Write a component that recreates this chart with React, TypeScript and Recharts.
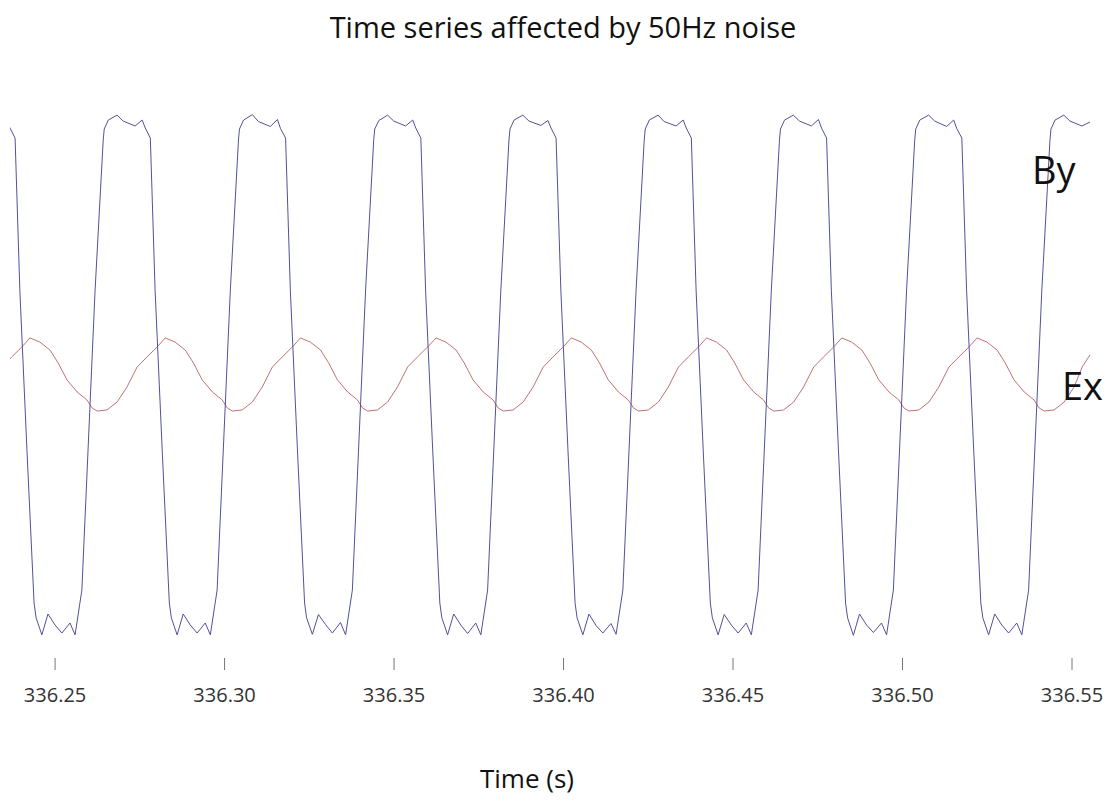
import { LineChart, Line, XAxis, YAxis } from 'recharts';

const FONT = '"Open Sans", "Noto Sans", sans-serif';

const timeTicks = [336.25, 336.3, 336.35, 336.4, 336.45, 336.5, 336.55];

// By channel (magnetic), seconds
const byTime = [
  336.2337, 336.2358, 336.2367, 336.2382, 336.2396, 336.2417, 336.2438, 336.2444, 336.2461, 336.2479,
  336.25, 336.252, 336.2544, 336.2559, 336.2579, 336.2618,
  336.2642, 336.2645, 336.2657, 336.2683, 336.2701, 336.2736, 336.2757, 336.2766, 336.2781, 336.2795,
  336.2816, 336.2837, 336.2843, 336.286, 336.2878, 336.2899, 336.2919, 336.2943, 336.2958, 336.2978, 336.3017,
  336.3041, 336.3044, 336.3056, 336.3082, 336.31, 336.3135, 336.3156, 336.3165, 336.318, 336.3194,
  336.3215, 336.3236, 336.3242, 336.3259, 336.3277, 336.3298, 336.3318, 336.3342, 336.3357, 336.3377, 336.3416,
  336.344, 336.3443, 336.3455, 336.3481, 336.3499, 336.3534, 336.3555, 336.3564, 336.3579, 336.3593,
  336.3614, 336.3635, 336.3641, 336.3658, 336.3676, 336.3697, 336.3717, 336.3741, 336.3756, 336.3776, 336.3815,
  336.3839, 336.3842, 336.3854, 336.388, 336.3898, 336.3933, 336.3954, 336.3963, 336.3978, 336.3992,
  336.4013, 336.4034, 336.404, 336.4057, 336.4075, 336.4096, 336.4116, 336.414, 336.4155, 336.4175, 336.4214,
  336.4238, 336.4241, 336.4253, 336.4279, 336.4297, 336.4332, 336.4353, 336.4362, 336.4377, 336.4391,
  336.4412, 336.4433, 336.4439, 336.4456, 336.4474, 336.4495, 336.4515, 336.4539, 336.4554, 336.4574, 336.4613,
  336.4637, 336.464, 336.4652, 336.4678, 336.4696, 336.4731, 336.4752, 336.4761, 336.4776, 336.479,
  336.4811, 336.4832, 336.4838, 336.4855, 336.4873, 336.4894, 336.4914, 336.4938, 336.4953, 336.4973, 336.5012,
  336.5036, 336.5039, 336.5051, 336.5077, 336.5095, 336.513, 336.5151, 336.516, 336.5175, 336.5189,
  336.521, 336.5231, 336.5237, 336.5254, 336.5272, 336.5293, 336.5313, 336.5337, 336.5352, 336.5372, 336.5411,
  336.5435, 336.5438, 336.545, 336.5476, 336.5494, 336.5529, 336.5553,
];

const byValue = [
  0.968, 0.991, 0.96, 0.921, 0.33, -0.291, -0.886, -0.944, -1.01, -0.929,
  -0.972, -1.003, -0.964, -1.01, -0.836, 0.33,
  0.913, 0.956, 0.991, 1.01, 0.987, 0.968, 0.991, 0.96, 0.921, 0.33,
  -0.291, -0.886, -0.944, -1.01, -0.929, -0.972, -1.003, -0.964, -1.01, -0.836, 0.33,
  0.913, 0.956, 0.991, 1.012, 0.985, 0.966, 0.993, 0.958, 0.921, 0.33,
  -0.291, -0.886, -0.944, -1.008, -0.931, -0.97, -1.003, -0.962, -1.01, -0.836, 0.33,
  0.913, 0.956, 0.989, 1.01, 0.987, 0.968, 0.991, 0.96, 0.921, 0.33,
  -0.291, -0.886, -0.944, -1.01, -0.929, -0.972, -1.005, -0.964, -1.01, -0.836, 0.33,
  0.913, 0.956, 0.991, 1.01, 0.987, 0.97, 0.989, 0.96, 0.921, 0.33,
  -0.291, -0.886, -0.944, -1.01, -0.929, -0.974, -1.003, -0.966, -1.008, -0.836, 0.33,
  0.913, 0.956, 0.991, 1.01, 0.985, 0.968, 0.991, 0.96, 0.921, 0.33,
  -0.291, -0.886, -0.944, -1.01, -0.931, -0.972, -1.003, -0.964, -1.01, -0.836, 0.33,
  0.913, 0.956, 0.991, 1.01, 0.987, 0.968, 0.993, 0.96, 0.921, 0.33,
  -0.291, -0.886, -0.944, -1.012, -0.929, -0.972, -1.001, -0.964, -1.01, -0.836, 0.33,
  0.913, 0.956, 0.991, 1.01, 0.987, 0.966, 0.991, 0.958, 0.921, 0.33,
  -0.291, -0.886, -0.944, -1.01, -0.929, -0.972, -1.003, -0.964, -1.01, -0.836, 0.33,
  0.913, 0.956, 0.991, 1.01, 0.987, 0.968, 0.983,
];

// Ex channel (electric), seconds
const exTime = [
  336.2343, 336.2372, 336.2402,
  336.2426, 336.2455, 336.2485, 336.2509, 336.2535, 336.2565, 336.2594, 336.2609,
  336.2624, 336.2653, 336.2683, 336.2712, 336.2742, 336.2771, 336.2801,
  336.2825, 336.2854, 336.2884, 336.2908, 336.2934, 336.2964, 336.2993, 336.3008,
  336.3023, 336.3052, 336.3082, 336.3111, 336.3141, 336.317, 336.32,
  336.3224, 336.3253, 336.3283, 336.3307, 336.3333, 336.3363, 336.3392, 336.3407,
  336.3422, 336.3451, 336.3481, 336.351, 336.354, 336.3569, 336.3599,
  336.3624, 336.3653, 336.3683, 336.3707, 336.3733, 336.3763, 336.3792, 336.3807,
  336.3822, 336.3851, 336.3881, 336.391, 336.394, 336.3969, 336.3999,
  336.4023, 336.4052, 336.4082, 336.4106, 336.4132, 336.4162, 336.4191, 336.4206,
  336.4221, 336.425, 336.428, 336.4309, 336.4339, 336.4368, 336.4398,
  336.4422, 336.4451, 336.4481, 336.4505, 336.4531, 336.4561, 336.459, 336.4605,
  336.462, 336.4649, 336.4679, 336.4708, 336.4738, 336.4767, 336.4797,
  336.4821, 336.485, 336.488, 336.4904, 336.493, 336.496, 336.4989, 336.5004,
  336.5019, 336.5048, 336.5078, 336.5107, 336.5137, 336.5166, 336.5196,
  336.522, 336.5249, 336.5279, 336.5303, 336.5329, 336.5359, 336.5388, 336.5403,
  336.5418, 336.5447, 336.5477, 336.5506, 336.553, 336.5553,
];

const exValue = [
  0.031, 0.07, 0.109,
  0.144, 0.128, 0.097, 0.047, -0.019, -0.066, -0.097, -0.128,
  -0.14, -0.136, -0.105, -0.047, 0.031, 0.07, 0.109,
  0.144, 0.128, 0.097, 0.047, -0.019, -0.066, -0.097, -0.128,
  -0.14, -0.136, -0.105, -0.047, 0.031, 0.07, 0.109,
  0.144, 0.128, 0.097, 0.047, -0.019, -0.066, -0.097, -0.128,
  -0.14, -0.136, -0.105, -0.047, 0.031, 0.07, 0.109,
  0.144, 0.128, 0.097, 0.047, -0.019, -0.066, -0.097, -0.128,
  -0.14, -0.136, -0.105, -0.047, 0.031, 0.07, 0.109,
  0.144, 0.128, 0.097, 0.047, -0.019, -0.066, -0.097, -0.128,
  -0.14, -0.136, -0.105, -0.047, 0.031, 0.07, 0.109,
  0.144, 0.128, 0.097, 0.047, -0.019, -0.066, -0.097, -0.128,
  -0.14, -0.136, -0.105, -0.047, 0.031, 0.07, 0.109,
  0.144, 0.128, 0.097, 0.047, -0.019, -0.066, -0.097, -0.128,
  -0.14, -0.136, -0.105, -0.047, 0.031, 0.07, 0.109,
  0.144, 0.128, 0.097, 0.047, -0.019, -0.066, -0.097, -0.128,
  -0.14, -0.136, -0.105, -0.047, 0.031, 0.078,
];

const byData = byTime.map((t, i) => ({ t, v: byValue[i] }));
const exData = exTime.map((t, i) => ({ t, v: exValue[i] }));

const W = 1115;
const H = 801;

export default function App() {
  return (
    <div style={{ position: 'absolute', left: 0, top: 0, width: W, height: H, background: '#fff' }}>
      <LineChart width={W} height={H} margin={{ top: 92, right: 3, left: 10, bottom: 83 }}>
        <XAxis
          dataKey="t"
          type="number"
          domain={[336.2367, 336.5618]}
          allowDataOverflow
          ticks={timeTicks}
          interval={0}
          tickFormatter={(v: number) => v.toFixed(2)}
          axisLine={false}
          tickSize={12}
          tickMargin={18}
          height={60}
          tickLine={{ stroke: '#777' }}
          tick={{ fontSize: 20, fill: '#333', fontFamily: FONT }}
        />
        <XAxis
          xAxisId="top"
          orientation="top"
          dataKey="t"
          type="number"
          domain={[336.2367, 336.5618]}
          allowDataOverflow
          ticks={timeTicks}
          axisLine={false}
          tick={false}
          tickSize={4}
          height={0}
          tickLine={{ stroke: '#e4e4e4' }}
        />
        <YAxis hide type="number" domain={[-1.1, 1.1]} allowDataOverflow width={0} />
        <Line
          data={exData}
          dataKey="v"
          stroke="#c27274"
          strokeWidth={1}
          dot={false}
          isAnimationActive={false}
        />
        <Line
          data={byData}
          dataKey="v"
          stroke="#4f5399"
          strokeWidth={1}
          dot={false}
          isAnimationActive={false}
        />
      </LineChart>
      <svg
        width={W}
        height={H}
        style={{ position: 'absolute', left: 0, top: 0, pointerEvents: 'none' }}
        fontFamily={FONT}
      >
        <text x={563} y={38} textAnchor="middle" fontSize={29} fill="#111">
          Time series affected by 50Hz noise
        </text>
        <text x={1032} y={184} fontSize={38} fill="#111">
          By
        </text>
        <text x={1062} y={400} fontSize={38} fill="#111">
          Ex
        </text>
        <text x={527} y={788} textAnchor="middle" fontSize={26} fill="#111">
          Time (s)
        </text>
      </svg>
    </div>
  );
}
